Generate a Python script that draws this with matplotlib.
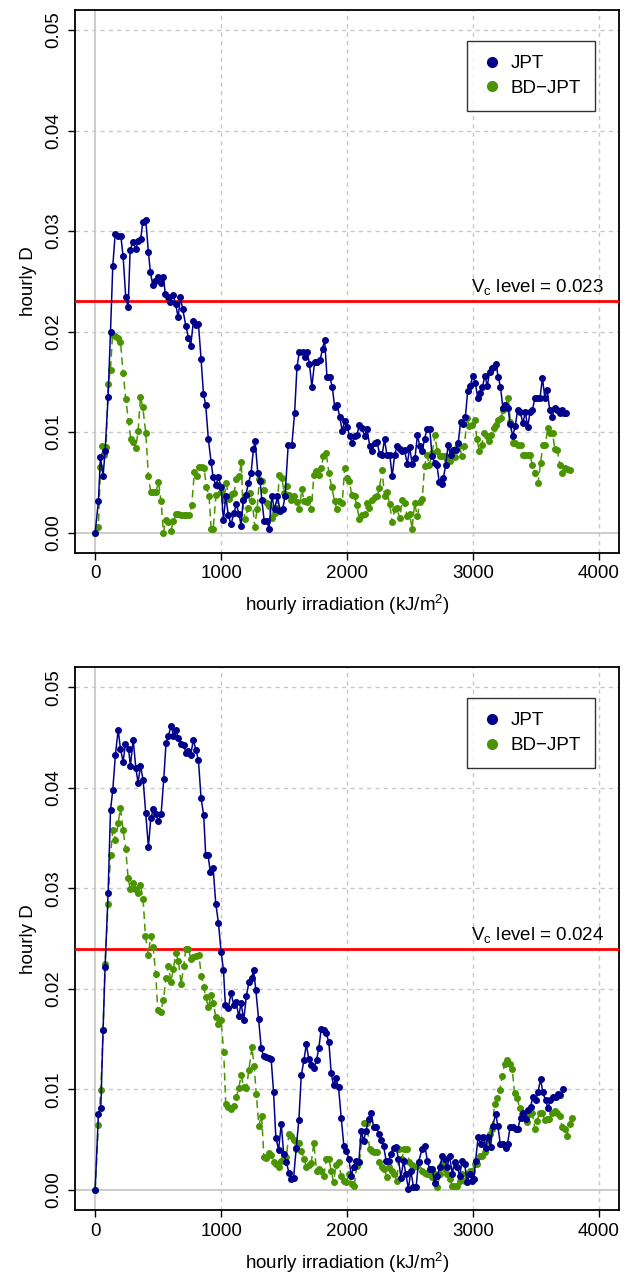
import matplotlib

matplotlib.use("Agg")

import matplotlib.pyplot as plt
from matplotlib.lines import Line2D

plt.rcParams["font.family"] = ["Liberation Sans", "DejaVu Sans"]
plt.rcParams["mathtext.fontset"] = "custom"
plt.rcParams["mathtext.rm"] = "Liberation Sans"
plt.rcParams["mathtext.it"] = "Liberation Sans:italic"

# ---------------------------------------------------------------------
# Datos
# ---------------------------------------------------------------------
# Panel superior, JPT
top_jpt_x = [0, 26, 42, 63, 79, 103, 122, 140, 159, 180, 204, 222, 243, 262, 278, 299,
             323, 341, 362, 378, 402, 423, 439, 458, 476, 497, 521, 542, 558, 579, 598,
             619, 640, 659, 677, 696, 720, 741, 759, 780, 799, 820, 841, 860, 878, 899,
             921, 937, 958, 979, 1000, 1019, 1037, 1058, 1079, 1101, 1122, 1143, 1159,
             1175, 1196, 1217, 1238, 1257, 1270, 1292, 1311, 1324, 1343, 1365, 1381,
             1403, 1425, 1448, 1470, 1489, 1508, 1533, 1562, 1584, 1603, 1622, 1648,
             1663, 1683, 1702, 1721, 1743, 1765, 1787, 1806, 1822, 1841, 1863, 1883,
             1902, 1921, 1943, 1962, 1981, 2000, 2022, 2041, 2060, 2079, 2098, 2121,
             2140, 2159, 2181, 2200, 2219, 2238, 2260, 2279, 2298, 2317, 2340, 2359,
             2378, 2397, 2419, 2438, 2457, 2479, 2498, 2517, 2540, 2559, 2578, 2597,
             2616, 2635, 2657, 2676, 2695, 2714, 2733, 2752, 2765, 2784, 2803, 2822,
             2844, 2863, 2883, 2902, 2921, 2940, 2959, 2978, 3000, 3019, 3038, 3057,
             3076, 3095, 3114, 3133, 3152, 3171, 3184, 3200, 3219, 3238, 3257, 3279,
             3295, 3317, 3336, 3355, 3375, 3397, 3416, 3435, 3454, 3473, 3492, 3511,
             3533, 3552, 3571, 3590, 3610, 3629, 3648, 3670, 3689, 3708, 3727, 3743]
top_jpt_y = [0.0, 0.0031, 0.0075, 0.0056, 0.0081, 0.0135, 0.0200, 0.0265, 0.0297, 0.0295,
             0.0295, 0.0275, 0.0234, 0.0224, 0.0281, 0.0289, 0.0282, 0.0290, 0.0292,
             0.0309, 0.0311, 0.0279, 0.0259, 0.0246, 0.0250, 0.0254, 0.0248, 0.0254,
             0.0237, 0.0234, 0.0229, 0.0236, 0.0227, 0.0214, 0.0234, 0.0222, 0.0206,
             0.0194, 0.0186, 0.0210, 0.0207, 0.0208, 0.0173, 0.0138, 0.0127, 0.0093,
             0.0070, 0.0055, 0.0047, 0.0055, 0.0045, 0.0012, 0.0036, 0.0017, 0.0008,
             0.0019, 0.0028, 0.0018, 0.0007, 0.0032, 0.0037, 0.0049, 0.0059, 0.0083,
             0.0091, 0.0059, 0.0051, 0.0032, 0.0011, 0.0011, 0.0004, 0.0036, 0.0023,
             0.0036, 0.0021, 0.0023, 0.0036, 0.0087, 0.0087, 0.0119, 0.0165, 0.0180,
             0.0180, 0.0175, 0.0180, 0.0168, 0.0145, 0.0170, 0.0170, 0.0172, 0.0183,
             0.0192, 0.0155, 0.0155, 0.0145, 0.0125, 0.0127, 0.0115, 0.0101, 0.0111,
             0.0105, 0.0096, 0.0089, 0.0096, 0.0097, 0.0107, 0.0104, 0.0096, 0.0103,
             0.0086, 0.0081, 0.0089, 0.0090, 0.0078, 0.0077, 0.0093, 0.0077, 0.0077,
             0.0056, 0.0077, 0.0086, 0.0083, 0.0081, 0.0082, 0.0068, 0.0085, 0.0068,
             0.0074, 0.0097, 0.0086, 0.0081, 0.0093, 0.0103, 0.0103, 0.0076, 0.0069,
             0.0067, 0.0050, 0.0048, 0.0054, 0.0067, 0.0087, 0.0077, 0.0082, 0.0082,
             0.0089, 0.0110, 0.0108, 0.0115, 0.0141, 0.0146, 0.0156, 0.0149, 0.0134,
             0.0139, 0.0145, 0.0156, 0.0146, 0.0160, 0.0164, 0.0165, 0.0168, 0.0155,
             0.0145, 0.0124, 0.0127, 0.0124, 0.0108, 0.0096, 0.0106, 0.0122, 0.0120,
             0.0109, 0.0120, 0.0105, 0.0120, 0.0122, 0.0134, 0.0134, 0.0134, 0.0154,
             0.0134, 0.0142, 0.0122, 0.0115, 0.0124, 0.0122, 0.0119, 0.0122, 0.0119,
             0.0119]

# Panel superior, BD-JPT
top_bd_x = [0, 26, 42, 58, 74, 87, 103, 122, 138, 159, 180, 201, 222, 243, 265, 283,
            302, 323, 341, 360, 378, 402, 423, 442, 460, 481, 503, 524, 542, 561, 582,
            600, 622, 640, 661, 683, 704, 725, 746, 767, 788, 807, 825, 847, 865, 884,
            905, 921, 937, 960, 979, 1000, 1021, 1042, 1063, 1085, 1103, 1122, 1143,
            1161, 1171, 1190, 1213, 1232, 1248, 1267, 1286, 1305, 1327, 1343, 1362,
            1381, 1403, 1425, 1444, 1463, 1483, 1502, 1521, 1540, 1559, 1581, 1600,
            1622, 1641, 1660, 1679, 1698, 1717, 1737, 1756, 1775, 1794, 1813, 1835,
            1857, 1879, 1902, 1921, 1940, 1962, 1981, 2000, 2019, 2038, 2060, 2079,
            2098, 2121, 2140, 2159, 2178, 2200, 2219, 2238, 2257, 2279, 2298, 2317,
            2340, 2359, 2378, 2397, 2419, 2438, 2457, 2479, 2498, 2517, 2537, 2559,
            2578, 2597, 2616, 2635, 2654, 2676, 2698, 2717, 2737, 2756, 2775, 2794,
            2816, 2835, 2854, 2873, 2892, 2914, 2933, 2952, 2971, 2994, 3013, 3032,
            3051, 3070, 3089, 3108, 3127, 3146, 3165, 3184, 3203, 3222, 3241, 3260,
            3279, 3298, 3317, 3336, 3359, 3378, 3397, 3416, 3435, 3454, 3473, 3495,
            3517, 3537, 3556, 3575, 3594, 3613, 3632, 3651, 3670, 3692, 3711, 3730,
            3749, 3768]
top_bd_y = [0.0, 0.0006, 0.0065, 0.0086, 0.0077, 0.0085, 0.0148, 0.0162, 0.0197, 0.0196,
            0.0194, 0.0190, 0.0159, 0.0133, 0.0111, 0.0093, 0.0090, 0.0084, 0.0101,
            0.0135, 0.0125, 0.0099, 0.0056, 0.0040, 0.0040, 0.0040, 0.0050, 0.0031,
            0.0000, 0.0012, 0.0010, 0.0002, 0.0011, 0.0018, 0.0018, 0.0017, 0.0017,
            0.0017, 0.0017, 0.0027, 0.0060, 0.0056, 0.0065, 0.0065, 0.0064, 0.0045,
            0.0036, 0.0004, 0.0004, 0.0037, 0.0047, 0.0040, 0.0032, 0.0049, 0.0033,
            0.0038, 0.0039, 0.0053, 0.0056, 0.0070, 0.0032, 0.0013, 0.0024, 0.0039,
            0.0031, 0.0006, 0.0023, 0.0053, 0.0051, 0.0042, 0.0029, 0.0026, 0.0014,
            0.0019, 0.0024, 0.0057, 0.0054, 0.0039, 0.0046, 0.0037, 0.0032, 0.0036,
            0.0030, 0.0023, 0.0043, 0.0031, 0.0030, 0.0033, 0.0023, 0.0057, 0.0061,
            0.0057, 0.0064, 0.0076, 0.0079, 0.0059, 0.0045, 0.0031, 0.0023, 0.0031,
            0.0029, 0.0064, 0.0054, 0.0051, 0.0037, 0.0036, 0.0027, 0.0013, 0.0017,
            0.0018, 0.0029, 0.0024, 0.0032, 0.0035, 0.0036, 0.0044, 0.0062, 0.0036,
            0.0040, 0.0028, 0.0010, 0.0023, 0.0024, 0.0014, 0.0032, 0.0029, 0.0016,
            0.0018, 0.0004, 0.0029, 0.0016, 0.0030, 0.0033, 0.0066, 0.0077, 0.0067,
            0.0079, 0.0097, 0.0081, 0.0076, 0.0076, 0.0076, 0.0072, 0.0071, 0.0081,
            0.0075, 0.0085, 0.0086, 0.0076, 0.0086, 0.0114, 0.0106, 0.0107, 0.0112,
            0.0093, 0.0081, 0.0087, 0.0099, 0.0096, 0.0091, 0.0097, 0.0104, 0.0107,
            0.0112, 0.0114, 0.0122, 0.0127, 0.0134, 0.0110, 0.0089, 0.0089, 0.0087,
            0.0087, 0.0077, 0.0077, 0.0077, 0.0077, 0.0067, 0.0059, 0.0049, 0.0069,
            0.0087, 0.0087, 0.0104, 0.0099, 0.0099, 0.0083, 0.0082, 0.0067, 0.0059,
            0.0064, 0.0063, 0.0062]

# Panel inferior, JPT
bot_jpt_x = [0, 26, 45, 63, 79, 103, 122, 140, 161, 183, 201, 222, 241, 265, 280, 302,
             323, 341, 360, 381, 402, 423, 442, 463, 481, 503, 524, 545, 563, 582, 603,
             622, 640, 661, 683, 704, 720, 741, 759, 780, 799, 820, 841, 862, 878, 897,
             915, 937, 958, 979, 1000, 1019, 1034, 1058, 1079, 1101, 1119, 1140, 1159,
             1180, 1201, 1222, 1243, 1258, 1276, 1298, 1319, 1338, 1359, 1377, 1398,
             1417, 1435, 1457, 1478, 1497, 1518, 1539, 1555, 1576, 1597, 1618, 1637,
             1658, 1677, 1697, 1716, 1737, 1758, 1776, 1795, 1814, 1835, 1856, 1875,
             1893, 1912, 1933, 1954, 1975, 1994, 2015, 2034, 2052, 2073, 2094, 2113,
             2132, 2152, 2171, 2192, 2211, 2232, 2253, 2271, 2290, 2311, 2330, 2348,
             2370, 2388, 2409, 2428, 2449, 2467, 2488, 2507, 2528, 2549, 2568, 2598,
             2619, 2638, 2656, 2677, 2696, 2717, 2738, 2757, 2775, 2796, 2815, 2836,
             2854, 2876, 2894, 2915, 2934, 2955, 2974, 2995, 3008, 3021, 3042, 3061,
             3082, 3101, 3119, 3140, 3159, 3180, 3198, 3217, 3238, 3259, 3275, 3296,
             3317, 3339, 3357, 3378, 3397, 3418, 3437, 3458, 3476, 3497, 3516, 3537,
             3556, 3577, 3595, 3616, 3635, 3656, 3675, 3693, 3714]
bot_jpt_y = [0.0, 0.0076, 0.0082, 0.0159, 0.0222, 0.0295, 0.0378, 0.0398, 0.0433, 0.0458,
             0.0439, 0.0426, 0.0444, 0.0439, 0.0422, 0.0448, 0.0420, 0.0405, 0.0422,
             0.0408, 0.0375, 0.0341, 0.0370, 0.0379, 0.0374, 0.0367, 0.0374, 0.0409,
             0.0445, 0.0452, 0.0462, 0.0452, 0.0458, 0.0450, 0.0444, 0.0443, 0.0435,
             0.0437, 0.0433, 0.0448, 0.0438, 0.0428, 0.0390, 0.0373, 0.0333, 0.0333,
             0.0316, 0.0320, 0.0285, 0.0266, 0.0237, 0.0219, 0.0184, 0.0181, 0.0196,
             0.0184, 0.0187, 0.0173, 0.0186, 0.0169, 0.0193, 0.0207, 0.0211, 0.0219,
             0.0199, 0.0170, 0.0141, 0.0133, 0.0132, 0.0131, 0.0130, 0.0097, 0.0052,
             0.0040, 0.0066, 0.0036, 0.0028, 0.0017, 0.0011, 0.0012, 0.0042, 0.0070,
             0.0114, 0.0129, 0.0145, 0.0130, 0.0124, 0.0121, 0.0129, 0.0141, 0.0160,
             0.0159, 0.0156, 0.0147, 0.0116, 0.0104, 0.0111, 0.0102, 0.0072, 0.0044,
             0.0039, 0.0031, 0.0014, 0.0023, 0.0029, 0.0028, 0.0059, 0.0049, 0.0059,
             0.0071, 0.0077, 0.0063, 0.0063, 0.0056, 0.0050, 0.0044, 0.0029, 0.0029,
             0.0036, 0.0042, 0.0043, 0.0031, 0.0012, 0.0029, 0.0016, 0.0001, 0.0019,
             0.0003, 0.0003, 0.0028, 0.0041, 0.0044, 0.0029, 0.0021, 0.0021, 0.0007,
             0.0014, 0.0023, 0.0034, 0.0031, 0.0023, 0.0034, 0.0016, 0.0028, 0.0023,
             0.0014, 0.0029, 0.0026, 0.0008, 0.0016, 0.0009, 0.0011, 0.0029, 0.0053,
             0.0046, 0.0053, 0.0042, 0.0053, 0.0043, 0.0064, 0.0076, 0.0064, 0.0046,
             0.0046, 0.0042, 0.0046, 0.0063, 0.0063, 0.0061, 0.0061, 0.0072, 0.0077,
             0.0071, 0.0080, 0.0083, 0.0092, 0.0089, 0.0097, 0.0110, 0.0097, 0.0089,
             0.0082, 0.0089, 0.0092, 0.0092, 0.0095, 0.0094, 0.0100]

# Panel inferior, BD-JPT
bot_bd_x = [0, 26, 45, 63, 79, 103, 122, 140, 161, 183, 201, 222, 243, 262, 280, 299,
            317, 339, 360, 381, 399, 423, 442, 460, 481, 497, 521, 542, 563, 582, 601,
            622, 640, 661, 683, 704, 720, 741, 759, 780, 802, 823, 844, 862, 878, 899,
            921, 939, 958, 979, 1000, 1021, 1037, 1058, 1079, 1101, 1119, 1140, 1159,
            1180, 1201, 1220, 1245, 1263, 1280, 1300, 1322, 1340, 1359, 1380, 1398,
            1417, 1438, 1459, 1478, 1499, 1518, 1539, 1557, 1576, 1597, 1618, 1637,
            1658, 1677, 1697, 1716, 1737, 1758, 1776, 1795, 1817, 1835, 1856, 1875,
            1893, 1914, 1933, 1954, 1975, 1994, 2015, 2036, 2057, 2078, 2099, 2118,
            2137, 2158, 2179, 2198, 2216, 2238, 2256, 2277, 2296, 2317, 2335, 2356,
            2375, 2396, 2415, 2436, 2454, 2475, 2494, 2515, 2533, 2554, 2573, 2598,
            2619, 2638, 2659, 2677, 2698, 2717, 2738, 2757, 2778, 2796, 2817, 2836,
            2857, 2876, 2894, 2915, 2934, 2955, 2974, 2995, 3016, 3034, 3053, 3074,
            3095, 3114, 3132, 3153, 3172, 3193, 3212, 3233, 3251, 3272, 3291, 3312,
            3331, 3352, 3370, 3392, 3410, 3431, 3450, 3471, 3492, 3511, 3529, 3550,
            3569, 3590, 3608, 3630, 3648, 3669, 3688, 3709, 3728, 3746, 3767, 3783]
bot_bd_y = [0.0, 0.0065, 0.0099, 0.0159, 0.0225, 0.0285, 0.0333, 0.0358, 0.0348, 0.0365,
            0.0380, 0.0358, 0.0339, 0.0310, 0.0299, 0.0305, 0.0299, 0.0295, 0.0303,
            0.0289, 0.0253, 0.0234, 0.0253, 0.0242, 0.0215, 0.0179, 0.0177, 0.0189,
            0.0211, 0.0223, 0.0207, 0.0220, 0.0236, 0.0228, 0.0205, 0.0223, 0.0240,
            0.0240, 0.0230, 0.0232, 0.0233, 0.0234, 0.0213, 0.0202, 0.0192, 0.0182,
            0.0194, 0.0186, 0.0172, 0.0165, 0.0169, 0.0137, 0.0086, 0.0083, 0.0081,
            0.0084, 0.0092, 0.0101, 0.0114, 0.0102, 0.0101, 0.0119, 0.0142, 0.0123,
            0.0095, 0.0064, 0.0074, 0.0033, 0.0032, 0.0037, 0.0035, 0.0028, 0.0026,
            0.0023, 0.0029, 0.0034, 0.0033, 0.0056, 0.0054, 0.0050, 0.0041, 0.0047,
            0.0039, 0.0031, 0.0023, 0.0025, 0.0027, 0.0047, 0.0019, 0.0021, 0.0019,
            0.0014, 0.0031, 0.0031, 0.0019, 0.0008, 0.0025, 0.0028, 0.0014, 0.0009,
            0.0008, 0.0016, 0.0006, 0.0004, 0.0024, 0.0028, 0.0050, 0.0067, 0.0067,
            0.0041, 0.0039, 0.0038, 0.0038, 0.0028, 0.0023, 0.0021, 0.0013, 0.0023,
            0.0019, 0.0016, 0.0009, 0.0041, 0.0031, 0.0041, 0.0041, 0.0028, 0.0025,
            0.0023, 0.0024, 0.0028, 0.0019, 0.0017, 0.0016, 0.0016, 0.0013, 0.0016,
            0.0003, 0.0016, 0.0026, 0.0021, 0.0016, 0.0011, 0.0004, 0.0004, 0.0004,
            0.0009, 0.0016, 0.0009, 0.0016, 0.0019, 0.0019, 0.0026, 0.0026, 0.0034,
            0.0034, 0.0038, 0.0049, 0.0056, 0.0061, 0.0086, 0.0091, 0.0099, 0.0113,
            0.0125, 0.0129, 0.0125, 0.0120, 0.0096, 0.0091, 0.0082, 0.0076, 0.0072,
            0.0068, 0.0076, 0.0077, 0.0061, 0.0069, 0.0077, 0.0077, 0.0070, 0.0071,
            0.0071, 0.0077, 0.0079, 0.0077, 0.0074, 0.0063, 0.0061, 0.0054, 0.0066,
            0.0072]

vc_levels = [0.023, 0.024]
legend_labels = ["JPT", "BD\u2212JPT"]
x_ticks = [0, 1000, 2000, 3000, 4000]
y_ticks = [0.00, 0.01, 0.02, 0.03, 0.04, 0.05]

COL_JPT = "#00008B"
COL_BD = "#4A9400"
GRID_COL = "#C8C8C8"
FS = 13.5


def draw_panel(ax, jx, jy, bx, by, vc):
    ax.set_xlim(-160, 4160)
    ax.set_ylim(-0.002, 0.052)

    # grilla punteada + ejes en cero
    for xv in x_ticks[1:]:
        ax.axvline(xv, color=GRID_COL, ls=(0, (3, 3)), lw=1.0, zorder=0)
    for yv in y_ticks[1:]:
        ax.axhline(yv, color=GRID_COL, ls=(0, (3, 3)), lw=1.0, zorder=0)
    ax.axvline(0, color=GRID_COL, lw=1.3, zorder=0)
    ax.axhline(0, color=GRID_COL, lw=1.3, zorder=0)

    ax.axhline(vc, color="red", lw=2.0, zorder=3)
    ax.text(4040, vc + 0.0004, rf"$\mathrm{{V_c}}$ level = {vc:.3f}",
            ha="right", va="bottom", fontsize=FS)

    ax.plot(bx, by, color=COL_BD, ls=(0, (5, 3)), lw=1.1, marker="o",
            markersize=4.0, zorder=4)
    ax.plot(jx, jy, color=COL_JPT, ls="-", lw=1.1, marker="o",
            markersize=4.0, zorder=5)

    ax.set_xticks(x_ticks)
    ax.set_xticklabels([str(t) for t in x_ticks])
    ax.set_yticks(y_ticks)
    ax.set_yticklabels([f"{t:.2f}" for t in y_ticks], rotation=90, va="center")
    ax.tick_params(direction="out", length=5, width=1, labelsize=FS, pad=4)
    for sp in ax.spines.values():
        sp.set_linewidth(1.3)

    ax.set_xlabel("hourly irradiation (kJ/m$^2$)", fontsize=FS, labelpad=8)
    ax.set_ylabel("hourly D", fontsize=FS, labelpad=6)

    handles = [Line2D([], [], color=COL_JPT, marker="o", ls="none", markersize=7),
               Line2D([], [], color=COL_BD, marker="o", ls="none", markersize=7)]
    leg = ax.legend(handles, legend_labels, loc="upper right",
                    bbox_to_anchor=(0.956, 0.943), fontsize=FS, frameon=True,
                    fancybox=False, edgecolor="black", borderpad=0.75,
                    handletextpad=0.4, labelspacing=0.4, handlelength=1.2,
                    borderaxespad=0)
    leg.get_frame().set_linewidth(1.0)


fig = plt.figure(figsize=(6.26, 12.76), dpi=100)
ax_top = fig.add_axes([0.1198, 0.5669, 0.8690, 0.4253])
ax_bot = fig.add_axes([0.1198, 0.0517, 0.8690, 0.4253])

draw_panel(ax_top, top_jpt_x, top_jpt_y, top_bd_x, top_bd_y, vc_levels[0])
draw_panel(ax_bot, bot_jpt_x, bot_jpt_y, bot_bd_x, bot_bd_y, vc_levels[1])

fig.savefig("out.png", dpi=100)
